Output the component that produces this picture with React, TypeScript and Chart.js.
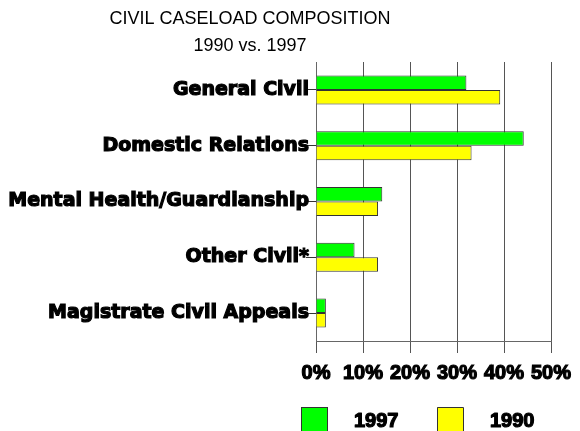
import React, { useEffect, useRef } from "react";
import { Chart, registerables } from "chart.js";

Chart.register(...registerables);

const categories = [
  "General Civil",
  "Domestic Relations",
  "Mental Health/Guardianship",
  "Other Civil*",
  "Magistrate Civil Appeals",
];
const values1997 = [32, 44.2, 14.1, 8.2, 2.1];
const values1990 = [39.2, 33.1, 13.2, 13.2, 2.1];
const seriesLabels = ["1997", "1990"];
const titleText = "CIVIL CASELOAD COMPOSITION";
const subtitleText = "1990 vs. 1997";
const xTicks = [0, 10, 20, 30, 40, 50];

const titlePlugin = {
  id: "customTitle",
  afterDraw(chart: any) {
    const ctx = chart.ctx;
    ctx.save();
    ctx.fillStyle = "#000";
    ctx.textAlign = "center";
    ctx.textBaseline = "middle";
    ctx.font = "18px 'Liberation Sans', Arial, sans-serif";
    ctx.fillText(titleText, 250, 19);
    ctx.fillText(subtitleText, 250, 46);
    ctx.restore();
  },
};

const legendPlugin = {
  id: "customLegend",
  afterDraw(chart: any) {
    const ctx = chart.ctx;
    const ds = chart.data.datasets;
    const starts = [301, 437];
    ctx.save();
    ds.forEach((d: any, i: number) => {
      const x = starts[i];
      ctx.fillStyle = d.backgroundColor;
      ctx.strokeStyle = "#333";
      ctx.lineWidth = 1;
      ctx.fillRect(x, 407, 26, 30);
      ctx.strokeRect(x + 0.5, 407.5, 26, 30);
      ctx.fillStyle = "#000";
      ctx.strokeStyle = "#000";
      ctx.lineWidth = 1.2;
      ctx.lineJoin = "round";
      ctx.font = "bold 20px 'Liberation Sans', Arial, sans-serif";
      ctx.textAlign = "left";
      ctx.textBaseline = "middle";
      ctx.strokeText(d.label, x + 53, 421);
      ctx.fillText(d.label, x + 53, 421);
    });
    ctx.restore();
  },
};

export default function App() {
  const ref = useRef<HTMLCanvasElement | null>(null);
  useEffect(() => {
    if (!ref.current) return;
    const chart = new Chart(ref.current, {
      type: "bar",
      data: {
        labels: categories,
        datasets: [
          {
            label: seriesLabels[0],
            data: values1997,
            backgroundColor: "#00ff00",
            borderColor: "#333333",
            borderWidth: 1,
            barPercentage: 1,
            categoryPercentage: 0.52,
          },
          {
            label: seriesLabels[1],
            data: values1990,
            backgroundColor: "#ffff00",
            borderColor: "#333333",
            borderWidth: 1,
            barPercentage: 1,
            categoryPercentage: 0.52,
          },
        ],
      },
      options: {
        indexAxis: "y",
        animation: false,
        responsive: false,
        maintainAspectRatio: false,
        layout: { padding: { top: 62, right: 29, left: 0, bottom: 0 } },
        plugins: {
          legend: { display: false },
          title: { display: false },
          tooltip: { enabled: false },
        },
        scales: {
          x: {
            type: "linear",
            min: 0,
            max: 50,
            afterBuildTicks: (scale: any) => {
              scale.ticks = xTicks.map((v) => ({ value: v }));
            },
            afterFit: (scale: any) => {
              scale.height = 90;
            },
            ticks: {
              callback: (v: any) => v + "%",
              color: "#000",
              padding: 8,
              maxRotation: 0,
              autoSkip: false,
              textStrokeColor: "#000",
              textStrokeWidth: 1.2,
              font: { family: "'Liberation Sans', Arial, sans-serif", size: 20, weight: "bold" },
            },
            grid: {
              color: (c: any) => (c.tick && c.tick.value === 0 ? "rgba(0,0,0,0)" : "#555"),
              tickColor: "#555",
              tickLength: 12,
              lineWidth: 1,
            },
            border: { display: true, color: "#666", width: 1 },
          },
          y: {
            afterFit: (scale: any) => {
              scale.width = 316;
            },
            ticks: {
              color: "#000",
              padding: -3,
              autoSkip: false,
              textStrokeColor: "#000",
              textStrokeWidth: 1.2,
              font: { family: "'DejaVu Sans', sans-serif", size: 19, weight: "bold" },
            },
            grid: {
              offset: false,
              drawOnChartArea: false,
              drawTicks: true,
              tickLength: 10,
              tickColor: "#333",
            },
            border: { display: true, color: "#666", width: 1 },
          },
        },
      },
      plugins: [titlePlugin, legendPlugin],
    } as any);
    return () => chart.destroy();
  }, []);
  return (
    <div style={{ position: "fixed", left: 0, top: 0, width: 580, height: 431, background: "#fff" }}>
      <canvas ref={ref} width={580} height={431} style={{ width: 580, height: 431, display: "block" }} />
    </div>
  );
}
